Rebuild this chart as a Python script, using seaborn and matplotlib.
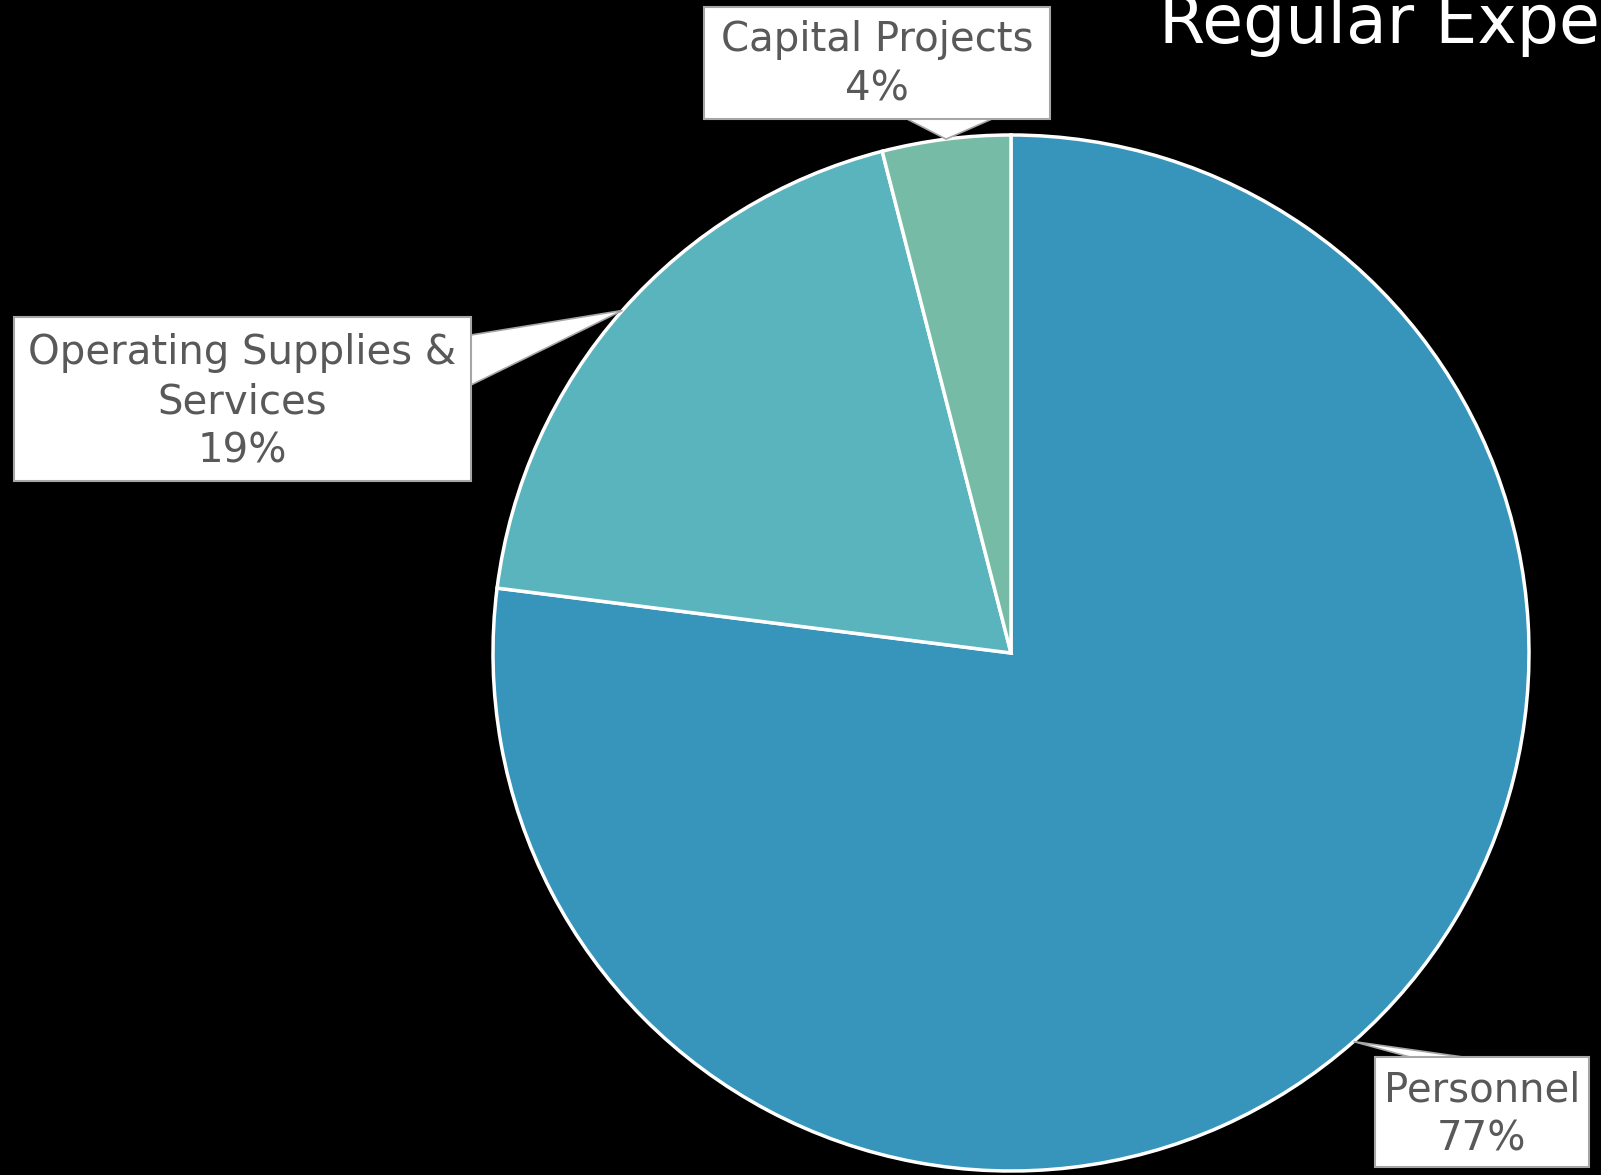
import numpy as np
import matplotlib
matplotlib.use("Agg")
import matplotlib.pyplot as plt
from matplotlib.patches import Rectangle, Polygon
import seaborn as sns

categories = ["Personnel", "Operating Supplies &\nServices", "Capital Projects"]
values = [77, 19, 4]
pct_labels = ["77%", "19%", "4%"]
colors = ["#3794BA", "#5AB4BE", "#76BBA6"]
title = "Regular Expenditures"

sns.set_theme(style="white")
plt.rcParams['font.family'] = ['DejaVu Sans']

W, H = 1601, 1175
fig = plt.figure(figsize=(W / 100, H / 100), dpi=100, facecolor="black")
ax = fig.add_axes([0, 0, 1, 1])
ax.set_facecolor("black")

cx, cy, R = 1011, H - 653, 518
wedges, _ = ax.pie(values, colors=colors, startangle=90, counterclock=False,
                   center=(cx, cy), radius=R,
                   wedgeprops=dict(edgecolor="white", linewidth=2.5))
ax.set_xlim(0, W)
ax.set_ylim(0, H)
ax.set_aspect("equal")
ax.axis("off")

# callout boxes in reference pixel coords: (left, top, right, bottom)
boxes = [(1375, 1057, 1589, 1167), (14, 317, 471, 481), (704, 7, 1050, 119)]
# tail base segments on the box edge (pixel coords)
tail_bases = [((1410, 1057), (1463, 1057)),
              ((471, 335), (471, 385)),
              ((907, 119), (992, 119))]
text_cy = [1115, 402, 65]
edge_col = "#a6a6a6"

for w, cat, pct, (l, t, r, b), (p1, p2), tyc in zip(
        wedges, categories, pct_labels, boxes, tail_bases, text_cy):
    ang = np.deg2rad((w.theta1 + w.theta2) / 2)
    px, py = cx + R * np.cos(ang), cy + R * np.sin(ang)
    tail = Polygon([(p1[0], H - p1[1]), (px, py), (p2[0], H - p2[1])],
                   closed=True, fc="white", ec=edge_col, lw=1.2, zorder=5)
    ax.add_patch(tail)
    rect = Rectangle((l, H - b), r - l, b - t, fc="white", ec=edge_col,
                     lw=1.5, zorder=6)
    ax.add_patch(rect)
    ax.text((l + r) / 2, H - tyc, f"{cat}\n{pct}", ha="center", va="center",
            fontsize=29, color="#595959", linespacing=1.3, zorder=7)

ax.text(1159, H - 43, title, color="white", fontsize=48, ha="left", va="baseline")

fig.savefig("out.png", dpi=100, facecolor="black")
